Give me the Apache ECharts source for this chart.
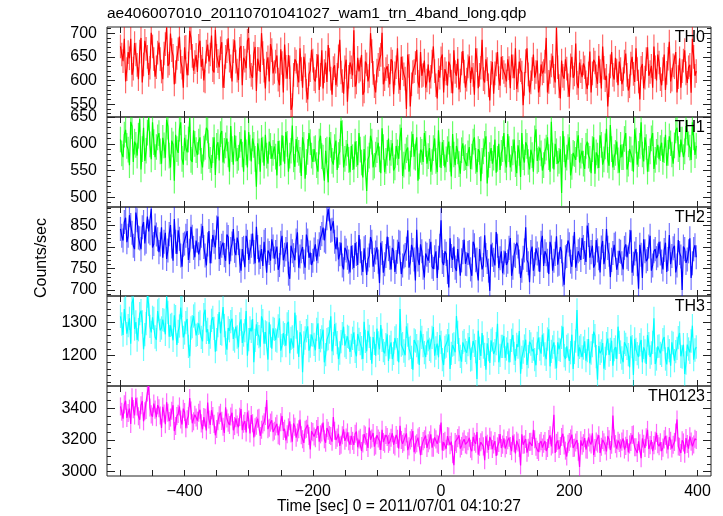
<!DOCTYPE html>
<html>
<head>
<meta charset="utf-8">
<script src="https://cdn.jsdelivr.net/npm/echarts@6/dist/echarts.min.js"></script>
<style>
html,body{margin:0;padding:0;background:#fff;}
#chart{width:723px;height:516px;}
</style>
</head>
<body>
<div id="chart"></div>
<script>
// ---------------- DATA ----------------
const titleText = 'ae406007010_20110701041027_wam1_trn_4band_long.qdp';
const xAxisTitle = 'Time [sec] 0 = 2011/07/01 04:10:27';
const yAxisTitle = 'Counts/sec';
const panelNames = ['TH0', 'TH1', 'TH2', 'TH3', 'TH0123'];

// bin times (sec), set A
const timeSec = [
-500,-496,-492,-488,-484,-480,-476,-472,-468,-464,-460,-456,-452,-448,-444,
-440,-436,-432,-428,-424,-420,-416,-412,-408,-404,-400,-396,-392,-388,-384,
-380,-376,-372,-368,-364,-360,-356,-352,-348,-344,-340,-336,-332,-328,-324,
-320,-316,-312,-308,-304,-300,-296,-292,-288,-284,-280,-276,-272,-268,-264,
-260,-256,-252,-248,-244,-240,-236,-232,-228,-224,-220,-216,-212,-208,-204,
-200,-196,-192,-188,-184,-180,-176,-172,-168,-164,-160,-156,-152,-148,-144,
-140,-136,-132,-128,-124,-120,-116,-112,-108,-104,-100,-96,-92,-88,-84,
-80,-76,-72,-68,-64,-60,-56,-52,-48,-44,-40,-36,-32,-28,-24,
-20,-16,-12,-8,-4,0,4,8,12,16,20,24,28,32,36,
40,44,48,52,56,60,64,68,72,76,80,84,88,92,96,
100,104,108,112,116,120,124,128,132,136,140,144,148,152,156,
160,164,168,172,176,180,184,188,192,196,200,204,208,212,216,
220,224,228,232,236,240,244,248,252,256,260,264,268,272,276,
280,284,288,292,296,300,304,308,312,316,320,324,328,332,336,
340,344,348,352,356,360,364,368,372,376,380,384,388,392,396
];
// bin times (sec), set B
const timeSecB = [
-498,-494,-490,-486,-482,-478,-474,-470,-466,-462,-458,-454,-450,-446,-442,
-438,-434,-430,-426,-422,-418,-414,-410,-406,-402,-398,-394,-390,-386,-382,
-378,-374,-370,-366,-362,-358,-354,-350,-346,-342,-338,-334,-330,-326,-322,
-318,-314,-310,-306,-302,-298,-294,-290,-286,-282,-278,-274,-270,-266,-262,
-258,-254,-250,-246,-242,-238,-234,-230,-226,-222,-218,-214,-210,-206,-202,
-198,-194,-190,-186,-182,-178,-174,-170,-166,-162,-158,-154,-150,-146,-142,
-138,-134,-130,-126,-122,-118,-114,-110,-106,-102,-98,-94,-90,-86,-82,
-78,-74,-70,-66,-62,-58,-54,-50,-46,-42,-38,-34,-30,-26,-22,
-18,-14,-10,-6,-2,2,6,10,14,18,22,26,30,34,38,
42,46,50,54,58,62,66,70,74,78,82,86,90,94,98,
102,106,110,114,118,122,126,130,134,138,142,146,150,154,158,
162,166,170,174,178,182,186,190,194,198,202,206,210,214,218,
222,226,230,234,238,242,246,250,254,258,262,266,270,274,278,
282,286,290,294,298,302,306,310,314,318,322,326,330,334,338,
342,346,350,354,358,362,366,370,374,378,382,386,390,394,398
];

const rateTH0 = [
672,641,598,660,688,625,655,603,690,634,667,612,701,645,628,
680,619,657,712,636,664,592,648,693,627,670,611,705,652,639,
618,684,646,598,676,655,622,707,641,668,585,650,689,630,662,
640,601,673,648,626,690,612,657,578,645,700,621,636,598,664,
618,653,590,637,676,604,628,548,645,611,668,585,632,560,622,
642,598,655,612,583,638,675,604,626,590,651,617,572,644,608,
628,706,596,619,654,577,634,610,662,588,621,645,701,603,630,
592,640,615,668,580,626,604,655,545,618,637,597,660,612,585,
634,608,672,590,622,647,575,615,640,598,664,610,581,636,619,
602,651,628,570,643,612,686,596,624,558,639,615,660,589,627,
611,645,584,630,668,600,622,548,641,613,596,655,618,575,634,
620,690,597,632,610,711,588,642,604,625,566,650,613,595,638,
607,628,582,661,615,638,593,620,672,601,545,630,612,648,590,
624,603,657,579,636,614,668,598,627,584,645,610,631,672,600,
638,590,655,616,682,602,628,575,647,620,664,595,633,688,610
];
const rateTH0B = [
655,688,624,647,612,679,633,661,596,684,650,627,672,608,659,
645,603,677,631,699,652,618,666,640,585,671,636,690,621,654,
673,629,600,661,640,695,617,652,628,681,609,662,642,598,685,
621,667,590,642,684,630,606,671,646,618,658,583,649,677,615,
640,602,666,575,629,654,538,612,640,596,624,650,578,613,665,
603,631,580,664,620,597,644,570,632,612,686,599,628,555,638,
611,587,648,623,570,640,598,700,616,575,633,654,592,624,610,
645,571,628,597,650,613,540,631,592,620,665,585,610,642,600,
596,640,620,562,606,655,624,589,632,573,618,646,600,662,585,
630,595,612,668,584,627,603,645,590,616,572,634,605,650,618,
598,626,655,605,582,640,617,593,668,575,624,606,642,590,615,
640,575,618,652,596,628,562,610,645,590,632,606,678,584,620,
636,596,615,575,644,609,652,583,627,610,590,660,602,621,640,
592,640,612,588,650,597,624,560,635,606,670,618,585,628,655,
603,624,580,646,598,632,660,607,585,642,615,628,574,650,620
];

const rateTH1 = [
608,575,626,589,641,566,598,615,552,630,587,649,571,603,594,
620,563,597,645,578,606,531,590,628,572,611,584,648,566,600,
579,612,556,594,625,570,588,542,603,618,565,597,580,633,561,
591,574,609,548,584,622,567,598,520,586,611,559,578,604,572,
595,541,582,616,563,600,578,634,557,589,570,612,535,585,603,
566,592,548,615,574,587,528,598,561,606,579,643,556,583,570,
596,552,581,620,565,590,512,578,604,559,588,571,629,547,583,
569,601,556,584,612,540,576,593,563,618,574,531,589,566,600,
577,548,592,568,625,555,583,571,604,539,580,596,562,588,573,
559,594,576,612,547,585,568,600,526,579,563,608,572,551,590,
570,618,556,584,562,597,538,575,603,566,589,548,627,571,582,
560,593,575,641,552,586,568,508,590,574,612,557,581,600,565,
587,553,604,572,590,544,578,616,561,595,570,635,556,583,569,
598,575,620,563,589,548,606,581,640,567,594,572,610,553,585,
571,602,588,559,614,580,597,630,575,608,586,621,593,640,579
];
const rateTH1B = [
582,617,596,560,633,604,578,646,590,568,621,599,640,575,612,
586,611,574,632,556,599,617,583,640,561,593,608,570,625,588,
604,568,591,630,577,555,612,596,569,624,587,610,548,590,616,
568,598,580,625,556,593,610,572,601,548,589,617,563,596,583,
576,605,560,591,622,548,587,571,609,583,540,598,566,620,578,
590,560,604,577,531,589,612,568,594,551,585,620,572,600,547,
575,604,560,589,537,593,571,615,556,580,602,545,594,568,610,
583,550,596,572,630,561,588,548,599,576,612,558,585,620,563,
592,566,610,547,580,603,556,590,572,618,560,586,544,601,575,
582,553,604,568,590,530,586,614,561,592,574,546,600,583,620,
556,590,572,608,545,583,620,565,596,552,579,610,568,593,550,
586,612,548,578,600,563,590,624,556,594,541,583,570,616,578,
563,596,578,545,612,584,555,598,571,628,559,590,575,604,546,
575,609,552,590,573,627,561,596,580,612,548,586,620,570,598,
592,566,617,583,601,563,625,590,608,575,633,599,570,612,596
];

const rateTH2 = [
842,815,868,826,851,803,880,822,795,858,812,836,889,807,829,
788,846,812,772,830,801,865,784,819,754,808,837,791,824,776,
815,797,849,780,806,762,828,799,871,786,810,768,823,795,842,
781,809,745,798,826,770,803,788,847,764,795,812,740,786,818,
773,801,758,826,782,811,726,790,769,834,778,800,752,815,787,
768,806,790,821,845,812,888,838,860,795,771,810,748,792,766,
803,751,784,828,762,797,735,780,812,770,799,716,786,760,824,
775,798,742,789,810,757,781,839,764,793,722,771,806,752,785,
768,812,749,790,775,862,758,784,706,779,801,744,792,769,817,
760,788,733,804,771,795,748,827,765,698,782,757,803,774,739,
790,766,821,752,779,801,728,775,846,762,788,745,797,771,810,
756,783,737,799,768,825,761,790,712,779,806,754,835,772,794,
821,786,850,775,803,760,792,741,814,777,798,730,786,808,763,
789,748,806,772,839,761,795,703,782,818,767,801,745,790,774,
812,766,793,742,828,779,803,757,786,700,795,771,820,762,804
];
const rateTH2B = [
826,858,811,874,833,795,862,820,846,808,871,832,799,850,818,
806,775,833,792,851,768,812,839,780,805,826,770,847,798,815,
783,826,800,757,837,790,812,845,772,803,781,829,760,808,791,
822,768,795,753,812,789,831,762,800,777,756,816,792,768,801,
788,747,810,769,795,738,803,781,815,752,790,766,829,775,758,
794,768,806,830,815,867,891,840,812,822,783,757,798,775,741,
776,809,758,790,742,800,771,823,754,787,766,810,740,779,795,
748,790,765,812,737,778,796,752,805,771,840,758,790,729,782,
791,754,776,728,803,765,790,742,820,770,752,795,733,788,761,
786,748,812,769,722,797,758,781,745,806,770,835,751,790,764,
758,798,733,782,810,766,745,792,770,718,801,760,785,742,826,
790,768,812,745,784,759,800,736,776,815,766,798,752,790,770,
800,765,828,788,752,816,774,799,760,842,782,770,805,747,791,
762,798,776,812,740,785,760,805,728,790,772,826,757,795,780,
785,748,810,772,760,797,741,816,778,801,763,790,728,795,776
];

const rateTH3 = [
1318,1262,1345,1290,1236,1372,1301,1278,1335,1219,1296,1354,1270,1312,1248,
1339,1283,1306,1377,1257,1294,1321,1232,1289,1350,1268,1310,1198,1287,1325,
1264,1301,1243,1338,1279,1256,1315,1212,1290,1267,1346,1238,1283,1302,1250,
1287,1225,1309,1262,1334,1248,1273,1180,1294,1257,1318,1236,1268,1300,1221,
1279,1244,1312,1230,1263,1295,1207,1256,1329,1241,1270,1150,1253,1288,1229,
1262,1216,1297,1245,1278,1203,1251,1318,1236,1264,1190,1242,1287,1225,1255,
1231,1270,1198,1249,1224,1302,1213,1258,1176,1237,1281,1219,1246,1207,1264,
1226,1190,1253,1218,1340,1236,1201,1262,1225,1158,1244,1211,1275,1230,1196,
1248,1214,1286,1223,1195,1240,1172,1229,1264,1207,1235,1319,1218,1182,1245,
1209,1256,1190,1231,1130,1222,1268,1204,1237,1178,1250,1215,1296,1201,1228,
1193,1239,1215,1262,1185,1226,1146,1211,1248,1197,1235,1220,1171,1254,1206,
1232,1189,1279,1213,1240,1162,1219,1255,1200,1228,1184,1263,1210,1337,1225,
1196,1243,1215,1177,1230,1260,1128,1207,1238,1192,1251,1219,1170,1226,1287,
1211,1180,1234,1203,1258,1142,1219,1196,1247,1225,1175,1236,1208,1312,1190,
1229,1201,1256,1174,1215,1240,1185,1222,1268,1196,1145,1233,1210,1290,1217
];
const rateTH3B = [
1295,1340,1266,1312,1358,1280,1247,1326,1301,1263,1379,1288,1315,1256,1334,
1276,1308,1264,1330,1291,1246,1317,1273,1344,1255,1299,1228,1283,1319,1261,
1297,1255,1323,1270,1235,1306,1282,1248,1331,1265,1290,1218,1275,1311,1244,
1256,1295,1238,1275,1200,1283,1310,1246,1266,1227,1305,1271,1188,1259,1282,
1247,1289,1215,1268,1230,1302,1252,1224,1286,1196,1260,1238,1275,1215,1263,
1234,1279,1220,1256,1180,1248,1271,1213,1295,1239,1208,1266,1230,1258,1211,
1252,1213,1265,1236,1190,1243,1275,1222,1256,1200,1238,1292,1215,1233,1184,
1240,1207,1259,1180,1232,1214,1288,1221,1195,1247,1230,1172,1255,1209,1238,
1219,1255,1200,1236,1262,1188,1225,1245,1160,1232,1210,1270,1198,1240,1216,
1233,1187,1244,1212,1275,1199,1226,1158,1218,1246,1205,1236,1180,1228,1259,
1220,1180,1246,1207,1234,1274,1195,1229,1172,1242,1213,1188,1237,1220,1263,
1205,1250,1168,1226,1196,1240,1216,1287,1190,1232,1209,1160,1244,1198,1230,
1223,1185,1250,1208,1272,1197,1229,1214,1161,1236,1202,1245,1218,1190,1240,
1193,1240,1222,1165,1227,1250,1206,1233,1180,1214,1262,1196,1240,1175,1228,
1207,1248,1190,1226,1170,1237,1212,1254,1198,1233,1178,1220,1244,1188,1226
];

const rateTH0123 = [
3412,3335,3448,3371,3302,3395,3466,3350,3420,3318,3389,3541,3362,3430,3344,
3401,3276,3368,3439,3320,3385,3257,3352,3412,3298,3377,3331,3465,3306,3360,
3322,3391,3268,3340,3436,3295,3351,3230,3318,3372,3284,3407,3310,3349,3262,
3337,3281,3396,3303,3248,3329,3358,3216,3290,3341,3265,3312,3452,3277,3324,
3259,3303,3224,3352,3271,3236,3318,3189,3284,3247,3329,3205,3265,3296,3140,
3250,3212,3288,3236,3310,3183,3259,3226,3345,3201,3240,3170,3268,3215,3192,
3226,3169,3254,3203,3131,3237,3188,3279,3210,3158,3231,3195,3264,3177,3219,
3189,3243,3160,3208,3290,3176,3221,3136,3198,3256,3171,3215,3104,3193,3228,
3180,3236,3152,3204,3169,3311,3187,3145,3222,3190,3041,3176,3230,3163,3205,
3168,3214,3130,3189,3251,3157,3198,3072,3176,3220,3143,3193,3160,3238,3171,
3147,3199,3162,3228,3115,3184,3040,3170,3206,3151,3189,3264,3158,3125,3193,
3176,3131,3207,3160,3360,3182,3143,3219,3165,3096,3188,3234,3152,3200,3030,
3164,3212,3139,3185,3242,3150,3178,3118,3201,3166,3225,3137,3354,3174,3196,
3148,3210,3163,3122,3187,3236,3155,3192,3085,3176,3218,3143,3199,3168,3245,
3161,3130,3204,3172,3219,3146,3188,3330,3157,3199,3114,3175,3223,3160,3208
];
const rateTH0123B = [
3378,3425,3340,3398,3470,3355,3412,3328,3446,3382,3500,3405,3347,3392,3420,
3355,3410,3300,3372,3342,3420,3288,3365,3330,3398,3275,3352,3386,3318,3342,
3372,3305,3345,3260,3330,3388,3302,3270,3356,3321,3245,3336,3295,3372,3288,
3298,3346,3262,3320,3375,3241,3306,3280,3335,3226,3298,3352,3269,3310,3250,
3286,3230,3312,3257,3198,3280,3242,3305,3215,3268,3230,3182,3271,3225,3256,
3222,3270,3190,3248,3205,3276,3232,3190,3258,3215,3163,3230,3195,3248,3170,
3195,3240,3155,3214,3178,3228,3150,3202,3244,3166,3210,3138,3187,3232,3176,
3214,3170,3232,3146,3200,3186,3242,3160,3212,3123,3180,3226,3162,3205,3150,
3198,3152,3216,3176,3240,3134,3195,3225,3168,3110,3188,3212,3146,3190,3172,
3192,3145,3220,3176,3108,3186,3160,3224,3138,3198,3172,3100,3181,3150,3210,
3168,3215,3130,3180,3196,3150,3236,3172,3120,3188,3162,3205,3138,3180,3152,
3194,3150,3230,3172,3118,3196,3162,3240,3133,3176,3210,3150,3185,3126,3198,
3180,3140,3216,3172,3105,3190,3230,3158,3186,3128,3204,3170,3210,3146,3182,
3190,3140,3206,3172,3232,3155,3118,3180,3210,3150,3264,3168,3130,3196,3174,
3186,3152,3226,3140,3195,3170,3248,3160,3118,3185,3212,3146,3190,3172,3200
];

// 1-sigma error bar half-lengths (counts/sec)
const errTH = [25, 24, 28, 35, 57];

const xRange = [-521, 421];
const xTickLabels = [-400, -200, 0, 200, 400];
const xTicksBottom = [-500,-450,-400,-350,-300,-250,-200,-150,-100,-50,0,50,100,150,200,250,300,350,400];
const xTicksPanel = [-500,-400,-300,-200,-100,0,100,200,300,400];

const yRanges = [[523, 713], [482, 650], [686, 893], [1109, 1379], [2973, 3541]];
const yTickLabels = [
  [550, 600, 650, 700],
  [500, 550, 600, 650],
  [700, 750, 800, 850],
  [1200, 1300],
  [3000, 3200, 3400]
];
const yMinorTicks = [
  [530,540,560,570,580,590,610,620,630,640,660,670,680,690,710],
  [490,510,520,530,540,560,570,580,590,610,620,630,640],
  [690,710,720,730,740,760,770,780,790,810,820,830,840,860,870,880,890],
  [1120,1140,1160,1180,1220,1240,1260,1280,1320,1340,1360],
  [3050,3100,3150,3250,3300,3350,3450,3500]
];
const ratesA = [rateTH0, rateTH1, rateTH2, rateTH3, rateTH0123];
const ratesB = [rateTH0B, rateTH1B, rateTH2B, rateTH3B, rateTH0123B];

// ---------------- STYLE / LAYOUT ----------------
const FONT = '"Liberation Sans", Arial, Helvetica, sans-serif';
const lineColors = ['#ff0000', '#00ff00', '#0000ff', '#00ffff', '#ff00ff'];
const errColors = ['rgba(255,0,0,0.6)', 'rgba(0,255,0,0.6)', 'rgba(0,0,255,0.55)', 'rgba(0,255,255,0.6)', 'rgba(255,0,255,0.6)'];
const gridTops = [27, 117, 207, 296, 386];
const gridHeights = [90, 90, 89, 90, 90];
const gridLeft = 107, gridRight = 12;
const frameColor = '#222';

const grids = [], xAxes = [], yAxes = [], series = [], graphics = [];

for (let i = 0; i < 5; i++) {
  grids.push({
    left: gridLeft, right: gridRight, top: gridTops[i], height: gridHeights[i],
    show: true, borderColor: frameColor, borderWidth: 1, backgroundColor: 'transparent'
  });
  const isBottom = (i === 4);
  xAxes.push({
    type: 'value', gridIndex: i, position: 'bottom', min: xRange[0], max: xRange[1],
    axisLine: { show: false, onZero: false },
    splitLine: { show: false },
    axisTick: { show: true, inside: true, length: 6, lineStyle: { color: frameColor },
                customValues: isBottom ? xTicksBottom : xTicksPanel },
    axisLabel: { show: isBottom, customValues: xTickLabels, margin: 8,
                 fontFamily: FONT, fontSize: 16, color: '#000',
                 formatter: v => String(v).replace('-', '\u2212') }
  });
  xAxes.push({
    type: 'value', gridIndex: i, position: 'top', min: xRange[0], max: xRange[1],
    axisLine: { show: false, onZero: false }, splitLine: { show: false },
    axisTick: { show: true, inside: true, length: 6, lineStyle: { color: frameColor },
                customValues: xTicksPanel },
    axisLabel: { show: false }
  });
  const yBase = {
    type: 'value', gridIndex: i, min: yRanges[i][0], max: yRanges[i][1],
    axisLine: { show: false, onZero: false }, splitLine: { show: false }
  };
  yAxes.push(Object.assign({}, yBase, {
    position: 'left',
    axisTick: { show: true, inside: true, length: 8, lineStyle: { color: frameColor }, customValues: yTickLabels[i] },
    axisLabel: { show: true, customValues: yTickLabels[i], margin: 10, fontFamily: FONT, fontSize: 16, color: '#000',
                 formatter: v => String(v) }
  }));
  yAxes.push(Object.assign({}, yBase, {
    position: 'left',
    axisTick: { show: true, inside: true, length: 4, lineStyle: { color: frameColor }, customValues: yMinorTicks[i] },
    axisLabel: { show: false }
  }));
  yAxes.push(Object.assign({}, yBase, {
    position: 'right',
    axisTick: { show: true, inside: true, length: 8, lineStyle: { color: frameColor }, customValues: yTickLabels[i] },
    axisLabel: { show: false }
  }));
  yAxes.push(Object.assign({}, yBase, {
    position: 'right',
    axisTick: { show: true, inside: true, length: 4, lineStyle: { color: frameColor }, customValues: yMinorTicks[i] },
    axisLabel: { show: false }
  }));

  // merge the two read-off sets in time order
  const pts = [];
  for (let k = 0; k < timeSec.length; k++) {
    pts.push([timeSec[k], ratesA[i][k]]);
    pts.push([timeSecB[k], ratesB[i][k]]);
  }
  const err = errTH[i];
  const errColor = errColors[i];
  series.push({
    type: 'custom', xAxisIndex: 2 * i, yAxisIndex: 4 * i, clip: true, silent: true,
    data: pts, z: 2,
    renderItem: (params, api) => {
      const t = api.value(0), v = api.value(1);
      const p1 = api.coord([t, v - err]);
      const p2 = api.coord([t, v + err]);
      return { type: 'line', shape: { x1: p1[0], y1: p1[1], x2: p2[0], y2: p2[1] },
               style: { stroke: errColor, lineWidth: 1.2 } };
    }
  });
  series.push({
    type: 'line', xAxisIndex: 2 * i, yAxisIndex: 4 * i, data: pts, z: 3,
    showSymbol: false, symbol: 'none', clip: true, silent: true, sampling: null,
    lineStyle: { color: lineColors[i], width: 1.2 }
  });
  graphics.push({
    type: 'text', right: 723 - 705, top: gridTops[i] + 3, z: 10,
    style: { text: panelNames[i], fontFamily: FONT, fontSize: 16, fill: '#000' }
  });
}

graphics.push({
  type: 'text', left: 107, top: 6,
  style: { text: titleText, fontFamily: FONT, fontSize: 15.5, fill: '#000' }
});
graphics.push({
  type: 'text', x: 399, y: 507,
  style: { text: xAxisTitle, fontFamily: FONT, fontSize: 15.6, fill: '#000', align: 'center', verticalAlign: 'middle' }
});
graphics.push({
  type: 'text', x: 41.5, y: 258, rotation: Math.PI / 2,
  style: { text: yAxisTitle, fontFamily: FONT, fontSize: 16, fill: '#000', align: 'center', verticalAlign: 'middle' }
});

const chart = echarts.init(document.getElementById('chart'), null, { renderer: 'canvas' });
chart.setOption({
  animation: false,
  backgroundColor: '#fff',
  grid: grids,
  xAxis: xAxes,
  yAxis: yAxes,
  series: series,
  graphic: graphics
});
</script>
</body>
</html>
